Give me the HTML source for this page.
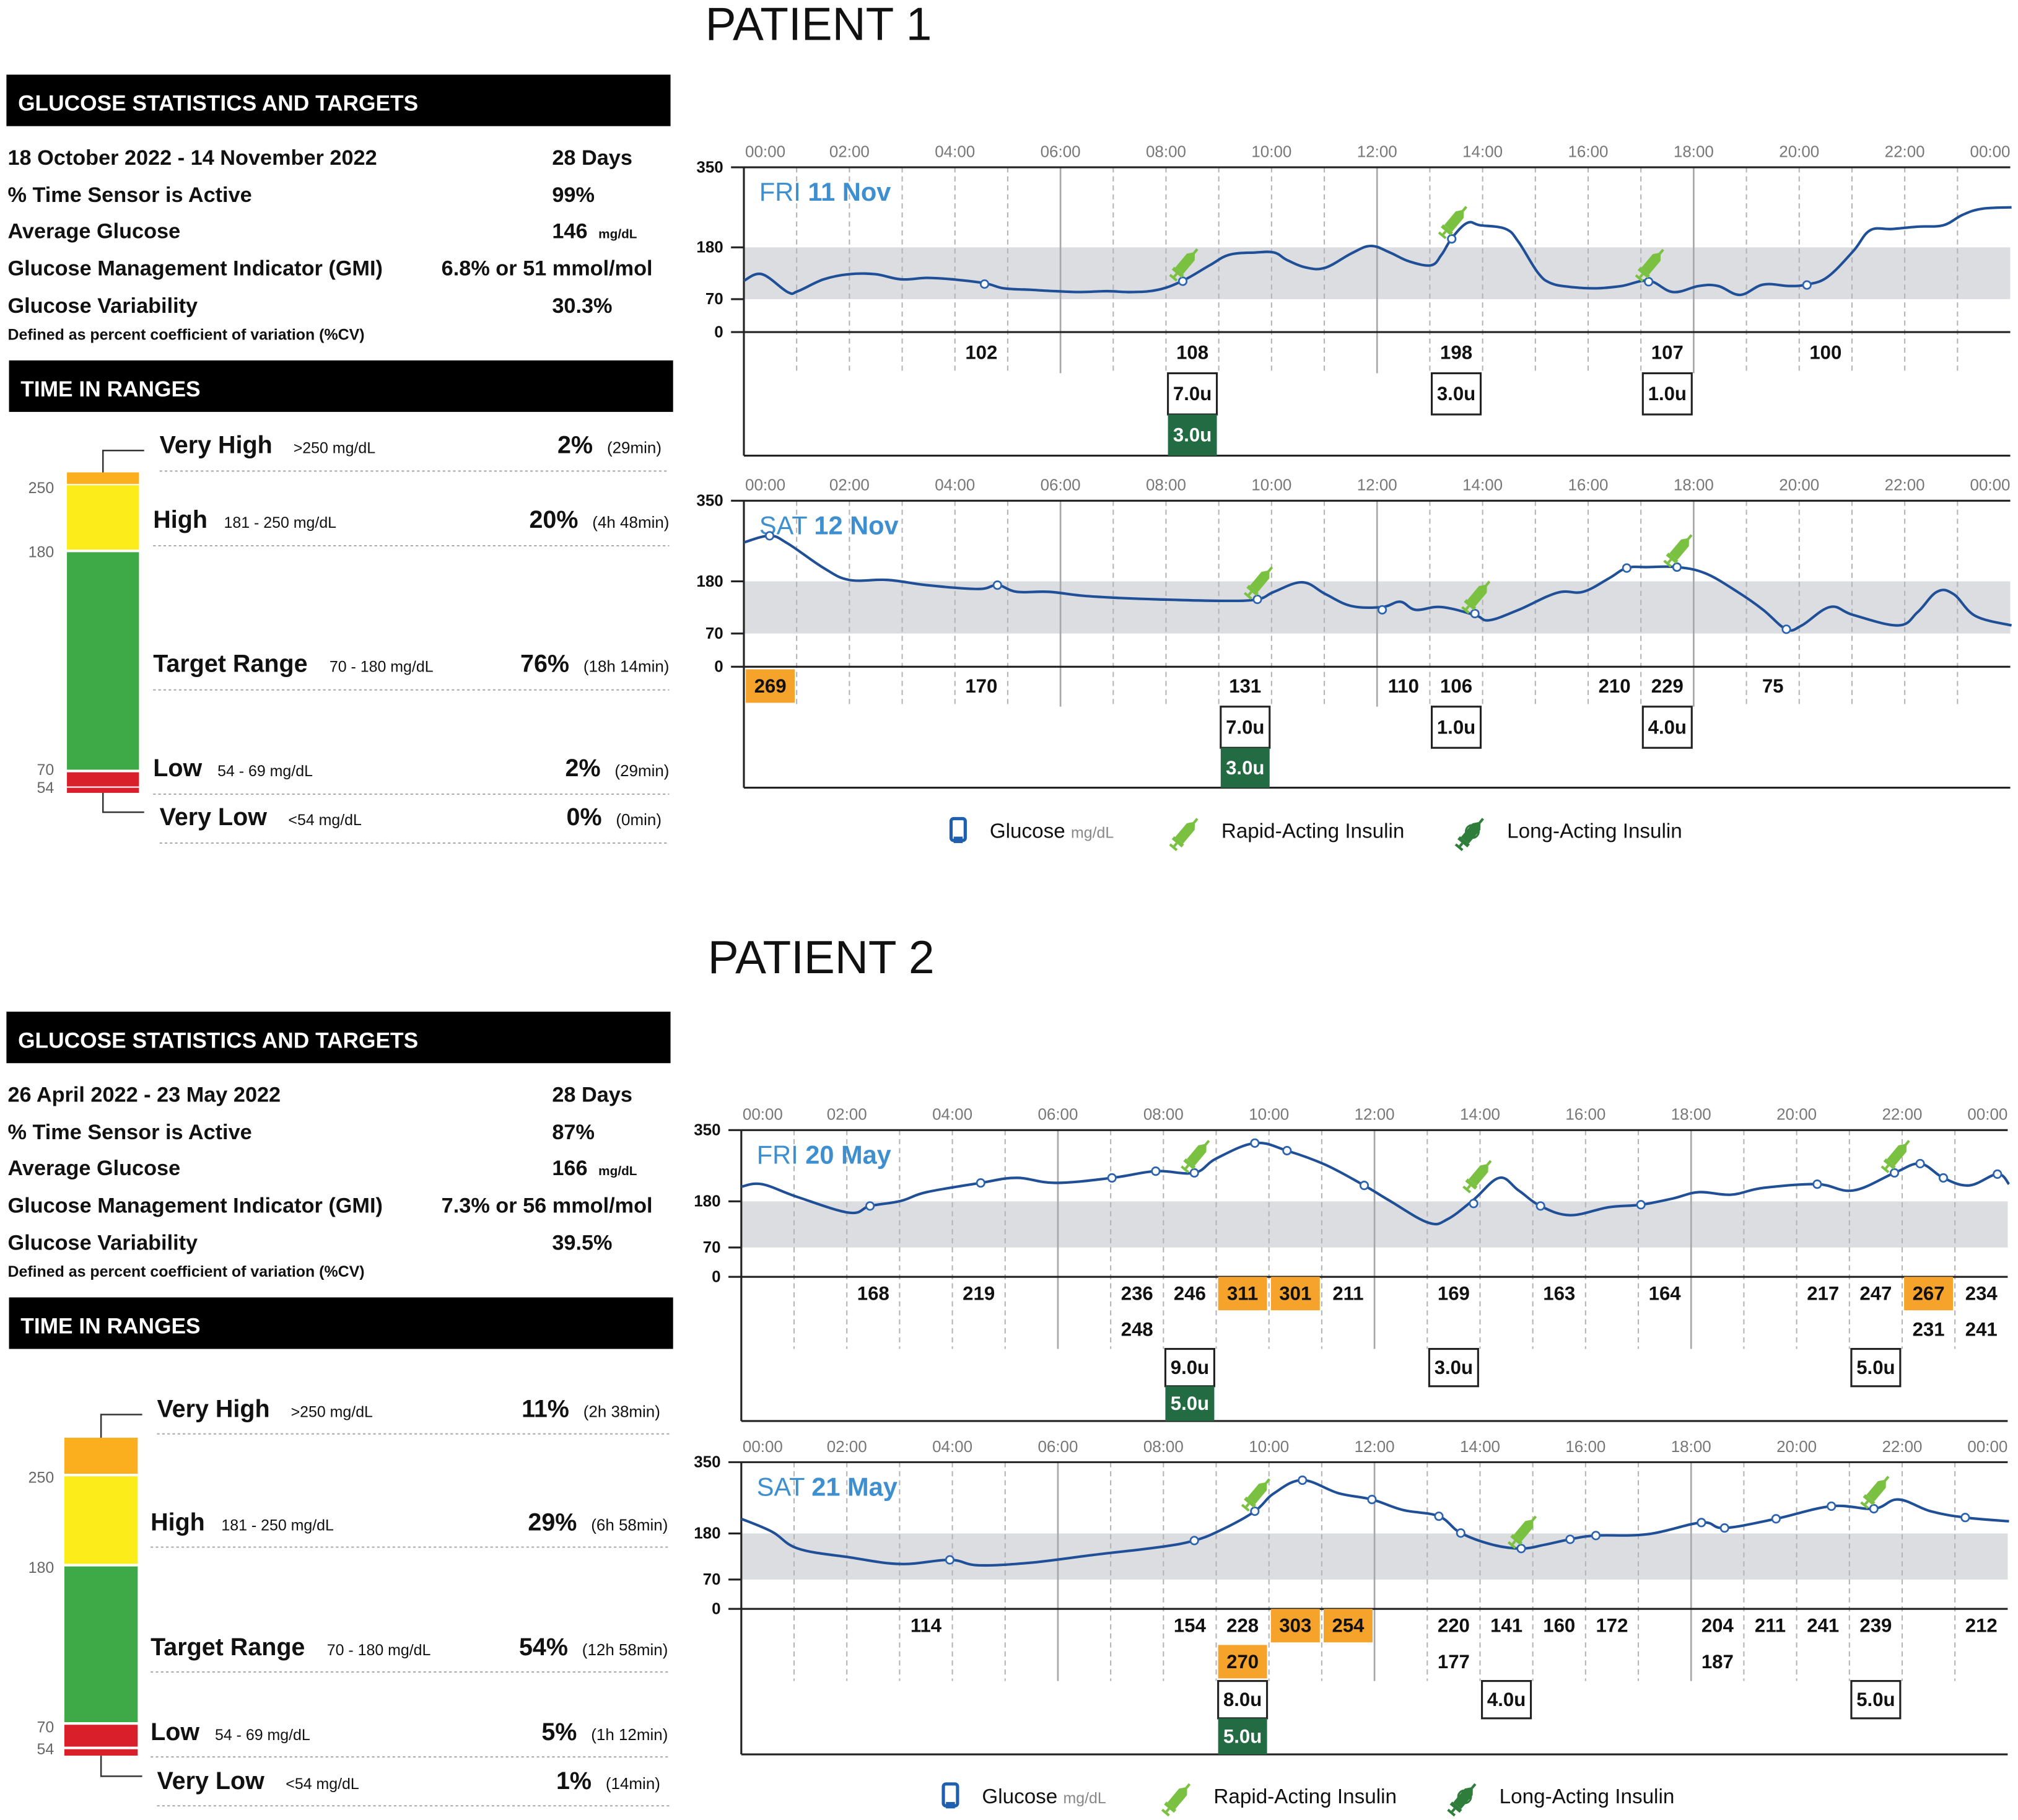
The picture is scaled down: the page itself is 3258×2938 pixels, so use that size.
<!DOCTYPE html>
<html><head><meta charset="utf-8"><style>
html,body{margin:0;padding:0;background:#fff;}
svg{display:block;}
text{font-family:"Liberation Sans",sans-serif;}
.n{font-family:"Liberation Sans Narrow","Liberation Sans",sans-serif;}
</style></head><body>
<svg id="root" xmlns="http://www.w3.org/2000/svg" width="3258" height="2938" viewBox="0 0 1568 1414">
<rect width="1568" height="1414" fill="#fff"/>
<text x="548" y="31" font-size="36" fill="#111">PATIENT 1</text>
<text x="550" y="756" font-size="36" fill="#111">PATIENT 2</text>
<g id="charts"></g>
</svg>
<script>
// ---------- DATA ----------
const p1Stats = ["18 October 2022 - 14 November 2022","28 Days","99%","146","6.8% or 51 mmol/mol","30.3%"];
const p2Stats = ["26 April 2022 - 23 May 2022","28 Days","87%","166","7.3% or 56 mmol/mol","39.5%"];
const p1Ranges = ["2%","20%","76%","2%","0%"];
const p1Durations = ["(29min)","(4h 48min)","(18h 14min)","(29min)","(0min)"];
const p2Ranges = ["11%","29%","54%","5%","1%"];
const p2Durations = ["(2h 38min)","(6h 58min)","(12h 58min)","(1h 12min)","(14min)"];

const hourLabels = ["00:00","02:00","04:00","06:00","08:00","10:00","12:00","14:00","16:00","18:00","20:00","22:00","00:00"];
const yTicks = [350,180,70,0];

// Chart A: FRI 11 Nov
const aCurveX = [578,592,612,620,640,660,680,700,720,740,765,780,800,820,840,860,880,900,919,940,955,975,990,1000,1015,1030,1050,1065,1080,1095,1112,1120,1128,1140,1150,1170,1180,1195,1205,1220,1240,1260,1281,1300,1320,1335,1352,1370,1390,1404,1420,1440,1453,1470,1490,1510,1525,1540,1563];
const aCurveV = [109,123,85,87,112,123,123,112,115,112,104,93,90,87,85,87,85,90,109,142,164,169,169,153,137,137,167,183,169,150,142,164,199,232,227,219,191,126,104,96,93,98,109,85,98,98,79,101,98,101,117,172,216,219,224,227,249,262,265];
const aDotX = [765,919,1128,1281,1404];
const aDotV = [102,108,198,107,100];
const aSyrX = [919,1128,1281];
const aReadH = [4.5,8.5,13.5,17.5,20.5];
const aReadV = ["102","108","198","107","100"];
const aRead2H = []; const aRead2V = [];
const aHiH = [];
const aRapidH = [8.5,13.5,17.5];
const aRapidV = ["7.0u","3.0u","1.0u"];
const aLongH = [8.5];
const aLongV = ["3.0u"];

// Chart B: SAT 12 Nov
const bCurveX = [578,598,612,640,660,690,720,760,775,790,815,840,870,900,950,977,990,1012,1030,1050,1074,1088,1100,1120,1146,1157,1180,1210,1230,1250,1264,1280,1303,1325,1350,1370,1388,1400,1422,1440,1475,1490,1505,1518,1535,1563];
const bCurveV = [262,276,260,208,183,183,172,164,172,158,158,150,145,142,139,142,158,178,153,128,126,137,120,126,109,98,120,156,158,186,208,210,210,197,158,120,79,87,126,109,87,115,158,153,107,87];
const bDotX = [598,775,977,1074,1146,1264,1303,1388];
const bDotV = [276,172,142,120,112,208,210,79];
const bSyrX = [977,1146,1303];
const bReadH = [0.5,4.5,9.5,12.5,13.5,16.5,17.5,19.5];
const bReadV = ["269","170","131","110","106","210","229","75"];
const bRead2H = []; const bRead2V = [];
const bHiH = [0.5];
const bRapidH = [9.5,13.5,17.5];
const bRapidV = ["7.0u","1.0u","4.0u"];
const bLongH = [9.5];
const bLongV = ["3.0u"];

// Chart C: FRI 20 May
const cCurveX = [576,592,620,660,676,700,720,762,790,820,864,898,928,945,975,1000,1030,1060,1080,1110,1125,1145,1165,1180,1197,1220,1250,1275,1300,1320,1345,1370,1412,1440,1472,1492,1510,1530,1552,1561];
const cCurveV = [215,221,190,153,169,181,202,224,236,224,236,252,248,282,319,301,267,218,181,129,138,184,236,206,169,147,166,172,187,202,196,212,221,206,248,270,236,218,245,221];
const cDotX = [676,762,864,898,928,975,1000,1060,1145,1197,1275,1412,1472,1492,1510,1552];
const cDotV = [169,224,236,252,248,319,301,218,175,169,172,221,248,270,236,245];
const cSyrX = [928,1147,1472];
const cReadH = [2.5,4.5,7.5,8.5,9.5,10.5,11.5,13.5,15.5,17.5,20.5,21.5,22.5,23.5];
const cReadV = ["168","219","236","246","311","301","211","169","163","164","217","247","267","234"];
const cRead2H = [7.5,22.5,23.5];
const cRead2V = ["248","231","241"];
const cHiH = [9.5,10.5,22.5];
const cHi2H = [];
const cRapidH = [8.5,13.5,21.5];
const cRapidV = ["9.0u","3.0u","5.0u"];
const cLongH = [8.5];
const cLongV = ["5.0u"];

// Chart D: SAT 21 May
const dCurveX = [576,600,620,660,700,738,760,800,850,900,928,950,975,990,1012,1040,1066,1090,1118,1135,1160,1182,1200,1220,1240,1280,1322,1340,1380,1423,1456,1475,1500,1527,1561];
const dCurveV = [215,184,144,123,107,117,104,110,129,147,163,190,233,276,307,276,261,236,221,181,153,144,153,166,175,178,206,193,215,245,239,261,233,218,209];
const dDotX = [738,928,975,1012,1066,1118,1135,1182,1220,1240,1322,1340,1380,1423,1456,1527];
const dDotV = [117,163,233,307,261,221,181,144,166,175,206,193,215,245,239,218];
const dSyrX = [975,1182,1456];
const dReadH = [3.5,8.5,9.5,10.5,11.5,13.5,14.5,15.5,16.5,18.5,19.5,20.5,21.5,23.5];
const dReadV = ["114","154","228","303","254","220","141","160","172","204","211","241","239","212"];
const dRead2H = [9.5,13.5,18.5];
const dRead2V = ["270","177","187"];
const dHiH = [10.5,11.5];
const dHi2H = [9.5];
const dRapidH = [9.5,14.5,21.5];
const dRapidV = ["8.0u","4.0u","5.0u"];
const dLongH = [9.5];
const dLongV = ["5.0u"];

// ---------- DRAW ----------
const NS="http://www.w3.org/2000/svg";
const G=document.getElementById('charts');
function el(tag,attrs,parent,txt){const e=document.createElementNS(NS,tag);for(const k in attrs)e.setAttribute(k,attrs[k]);if(txt!==undefined)e.textContent=txt;(parent||G).appendChild(e);return e;}

function panel(oy,stats,ranges,durs,bar,pfx){
  let g=el('g',{});
  
  
  let h=el('rect',{x:5,y:58+oy,width:516,height:40,fill:'#000'},g);
  
  
  el('text',{x:14,y:86+oy,'font-size':17,'font-weight':'bold',fill:'#fff'},g,'GLUCOSE STATISTICS AND TARGETS');
  const labels=[stats[0],'% Time Sensor is Active','Average Glucose','Glucose Management Indicator (GMI)','Glucose Variability'];
  const vals=[stats[1],stats[2],stats[3],stats[4],stats[5]];
  const bys=[128,157,185,214,243];
  for(let i=0;i<5;i++){
    let t=el('text',{x:6,y:bys[i]+oy,'font-size':16.5,'font-weight':'bold',fill:'#111'},g,labels[i]);
    
    
    let v=el('text',{x:i==3?343:429,y:bys[i]+oy,'font-size':16.5,'font-weight':'bold',fill:'#111'},g,vals[i]);
    
    
    if(i==2) el('text',{x:465,y:bys[i]+oy,'font-size':10,'font-weight':'bold',fill:'#111'},g,'mg/dL');
  }
  el('text',{x:6,y:264+oy,'font-size':12,'font-weight':'bold',fill:'#111'},g,'Defined as percent coefficient of variation (%CV)');
  let h2=el('rect',{x:7,y:280+oy,width:516,height:40,fill:'#000'},g);
  
  
  el('text',{x:16,y:308+oy,'font-size':17,'font-weight':'bold',fill:'#fff'},g,'TIME IN RANGES');
  const cols=['#fbae1e','#fcec19','#3eaa47','#d9202a','#d9202a'];
  for(let i=0;i<5;i++){
    let r=el('rect',{x:bar.x,y:bar.seg[i][0],width:bar.w,height:bar.seg[i][1]-bar.seg[i][0],fill:cols[i]},g);
    
    
  }
  const cx=bar.x+bar.w/2;
  el('path',{d:`M${cx} ${bar.seg[0][0]} V${bar.rows[0]-2} H${cx+32}`,stroke:'#333','stroke-width':1.2,fill:'none'},g);
  el('path',{d:`M${cx} ${bar.seg[4][1]} V${bar.rows[4]-10} H${cx+32}`,stroke:'#333','stroke-width':1.2,fill:'none'},g);
  const tl=['250','180','70','54'];
  for(let i=0;i<4;i++) el('text',{x:42,y:bar.tick[i],'font-size':12,fill:'#666','text-anchor':'end'},g,tl[i]);
  const names=['Very High','High','Target Range','Low','Very Low'];
  const sub=['>250 mg/dL','181 - 250 mg/dL','70 - 180 mg/dL','54 - 69 mg/dL','<54 mg/dL'];
  const nx=[bar.x+72,bar.x+67,bar.x+67,bar.x+67,bar.x+72];
  const subx=[228,174,256,169,224];
  for(let i=0;i<5;i++){
    const y=bar.rows[i];
    let t=el('text',{x:nx[i],y:y,'font-size':19,'font-weight':'bold',fill:'#111'},g,names[i]);
    
    
    el('text',{x:subx[i]-(pfx=='p2'?2:0),y:y,'font-size':12,fill:'#111'},g,sub[i]);
    let d=el('text',{x:bar.durEnd[i],y:y,'font-size':12.5,fill:'#111','text-anchor':'end'},g,durs[i]);
    let dw=d.getComputedTextLength();
    let p=el('text',{x:bar.durEnd[i]-dw-11,y:y,'font-size':19,'font-weight':'bold',fill:'#111','text-anchor':'end'},g,ranges[i]);
    
    
    el('line',{x1:nx[i],x2:520,y1:y+bar.dot,y2:y+bar.dot,stroke:'#aaa','stroke-width':1,'stroke-dasharray':'2,2'},g);
  }
}
panel(0,p1Stats,p1Ranges,p1Durations,{x:52,w:56,seg:[[367,376],[377,427],[429,598],[600,611],[612,616]],tick:[383,433,602,616],rows:[352,410,522,603,641],durEnd:[514,520,520,520,514],dot:14},'p1');
panel(728,p2Stats,p2Ranges,p2Durations,{x:50,w:57,seg:[[1117,1145],[1147,1215],[1217,1338],[1340,1357],[1359,1364]],tick:[1152,1222,1346,1363],rows:[1101,1189,1286,1352,1390],durEnd:[513,519,519,519,513],dot:13},'p2');

function syringe(g,x,y,col,name){
  let s=el('g',{transform:`translate(${x},${y}) rotate(-50)`},g);
  
  
  el('path',{d:'M-9 -4 L5 -4 L10 0 L5 4 L-9 4 Z',fill:col},s);
  el('rect',{x:9,y:-1,width:4,height:2,fill:col},s);
  el('rect',{x:-12,y:-5,width:3,height:10,fill:col},s);
  el('line',{x1:-15,y1:0,x2:-12,y2:0,stroke:col,'stroke-width':2},s);
  el('line',{x1:-16,y1:-3.5,x2:-16,y2:3.5,stroke:col,'stroke-width':2},s);
}

function smooth(pts){
  let d='M'+pts[0][0]+' '+pts[0][1].toFixed(1);
  for(let i=0;i<pts.length-1;i++){
    const p0=pts[Math.max(0,i-1)],p1=pts[i],p2=pts[i+1],p3=pts[Math.min(pts.length-1,i+2)];
    const t=0.18;
    const c1=[p1[0]+(p2[0]-p0[0])*t,p1[1]+(p2[1]-p0[1])*t];
    const c2=[p2[0]-(p3[0]-p1[0])*t,p2[1]-(p3[1]-p1[1])*t];
    d+=` C${c1[0].toFixed(1)} ${c1[1].toFixed(1)} ${c2[0].toFixed(1)} ${c2[1].toFixed(1)} ${p2[0]} ${p2[1].toFixed(1)}`;
  }
  return d;
}

function chart(cfg){
  const g=el('g',{});
  
  
  const x0=cfg.x0, hw=41, W=24*hw, k=(cfg.zero-cfg.top)/350;
  const X=h=>x0+h*hw, Y=v=>cfg.zero-v*k, XP=x=>x;
  let band=el('rect',{x:x0,y:Y(180),width:W,height:Y(70)-Y(180),fill:'#dcdde1'},g);
  
  
  for(let h=1;h<24;h++){
    const solid=(h%6==0);
    el('line',{x1:X(h),x2:X(h),y1:cfg.top,y2:cfg.gridEnd,stroke:solid?'#a8a8a8':'#b4b4b4','stroke-width':solid?1.3:1,'stroke-dasharray':solid?'none':'4,3'},g);
  }
  hourLabels.forEach((t,i)=>{
    let xx=X(i*2); let anc='middle';
    if(i==0){xx=x0+1;anc='start';} if(i==12){xx=x0+W;anc='end';}
    let lt=el('text',{x:xx,y:cfg.top-8,'font-size':12.5,fill:'#777','text-anchor':anc,class:'n'},g,t);
    
    
  });
  yTicks.forEach(v=>{
    let t=el('text',{x:x0-16,y:Y(v)+4,'font-size':12.5,fill:'#111','text-anchor':'end',class:'n','font-weight':'bold'},g,String(v));
    
    
    el('line',{x1:x0-10,x2:x0,y1:Y(v),y2:Y(v),stroke:'#222','stroke-width':1.5},g);
  });
  el('line',{x1:x0,x2:x0+W,y1:cfg.top,y2:cfg.top,stroke:'#222','stroke-width':1.5},g);
  el('line',{x1:x0,x2:x0+W,y1:cfg.zero,y2:cfg.zero,stroke:'#222','stroke-width':1.5},g);
  el('line',{x1:x0,x2:x0+W,y1:cfg.bottom,y2:cfg.bottom,stroke:'#222','stroke-width':1.5},g);
  el('line',{x1:x0,x2:x0,y1:cfg.top,y2:cfg.bottom,stroke:'#222','stroke-width':1.5},g);
  let tt=el('text',{x:x0+12,y:cfg.top+26,'font-size':20,fill:'#3d8fcf',class:'n'},g);
  
  
  el('tspan',{},tt,cfg.day+' ');
  el('tspan',{'font-weight':'bold'},tt,cfg.date);
  const pts=cfg.cx.map((x,i)=>[XP(x),Y(cfg.cv[i])]);
  let path=el('path',{d:smooth(pts),fill:'none',stroke:'#1f4f96','stroke-width':2,'stroke-linejoin':'round'},g);
  
  
  cfg.dx.forEach((x,i)=>{
    let c=el('circle',{cx:XP(x),cy:Y(cfg.dv[i]),r:3,fill:'#fff',stroke:'#2b63b0','stroke-width':1.3},g);
    
    
  });
  cfg.sx.forEach(x=>{
    let idx=cfg.dx.indexOf(x); let v=idx>=0?cfg.dv[idx]:200;
    syringe(g,XP(x)+3,Y(v)-15,'#7ac142','rapid-insulin-marker');
  });
  function reads(hs,vs,hi,cy){
    hs.forEach((h,i)=>{
      if(hi.indexOf(h)>=0){
        let r=el('rect',{x:X(h)-19,y:cy-13,width:38,height:26,fill:'#f6a32b'},g);
        
        
      }
      let t=el('text',{x:X(h),y:cy+5,'font-size':15,'font-weight':'bold',fill:'#111','text-anchor':'middle',class:'n'},g,vs[i]);
      
      
    });
  }
  reads(cfg.rh,cfg.rv,cfg.hi,cfg.zero+cfg.row1);
  reads(cfg.r2h,cfg.r2v,cfg.hi2||[],cfg.zero+cfg.row1+28);
  cfg.iph.forEach((h,i)=>{
    let r=el('rect',{x:X(h)-19,y:cfg.boxTop,width:38,height:cfg.boxH,fill:'#fff',stroke:'#222','stroke-width':1.5},g);
    
    
    el('text',{x:X(h),y:cfg.boxTop+cfg.boxH/2+5,'font-size':15,'font-weight':'bold',fill:'#111','text-anchor':'middle',class:'n'},g,cfg.ipv[i]);
  });
  cfg.ilh.forEach((h,i)=>{
    let r=el('rect',{x:X(h)-19,y:cfg.boxTop+cfg.boxH,width:38,height:cfg.bottom-cfg.boxTop-cfg.boxH,fill:'#236b43'},g);
    
    
    el('text',{x:X(h),y:cfg.boxTop+cfg.boxH+(cfg.bottom-cfg.boxTop-cfg.boxH)/2+5,'font-size':15,'font-weight':'bold',fill:'#fff','text-anchor':'middle',class:'n'},g,cfg.ilv[i]);
  });
}
chart({name:'chart-fri-11-nov',x0:578,top:130,zero:258,bottom:354,gridEnd:290,boxTop:290,boxH:32,row1:16,day:'FRI',date:'11 Nov',
  cx:aCurveX,cv:aCurveV,dx:aDotX,dv:aDotV,sx:aSyrX,rh:aReadH,rv:aReadV,r2h:aRead2H,r2v:aRead2V,hi:aHiH,iph:aRapidH,ipv:aRapidV,ilh:aLongH,ilv:aLongV});
chart({name:'chart-sat-12-nov',x0:578,top:389,zero:518,bottom:612,gridEnd:549,boxTop:549,boxH:32,row1:15,day:'SAT',date:'12 Nov',
  cx:bCurveX,cv:bCurveV,dx:bDotX,dv:bDotV,sx:bSyrX,rh:bReadH,rv:bReadV,r2h:bRead2H,r2v:bRead2V,hi:bHiH,iph:bRapidH,ipv:bRapidV,ilh:bLongH,ilv:bLongV});
chart({name:'chart-fri-20-may',x0:576,top:878,zero:992,bottom:1104,gridEnd:1048,boxTop:1048,boxH:29,row1:13,day:'FRI',date:'20 May',
  cx:cCurveX,cv:cCurveV,dx:cDotX,dv:cDotV,sx:cSyrX,rh:cReadH,rv:cReadV,r2h:cRead2H,r2v:cRead2V,hi:cHiH,hi2:cHi2H,iph:cRapidH,ipv:cRapidV,ilh:cLongH,ilv:cLongV});
chart({name:'chart-sat-21-may',x0:576,top:1136,zero:1250,bottom:1363,gridEnd:1306,boxTop:1306,boxH:29,row1:13,day:'SAT',date:'21 May',
  cx:dCurveX,cv:dCurveV,dx:dDotX,dv:dDotV,sx:dSyrX,rh:dReadH,rv:dReadV,r2h:dRead2H,r2v:dRead2V,hi:dHiH,hi2:dHi2H,iph:dRapidH,ipv:dRapidV,ilh:dLongH,ilv:dLongV});

function legend(x,y){
  const g=el('g',{});
  
  
  let ph=el('rect',{x:x,y:y-10,width:11,height:17,rx:2,fill:'#fff',stroke:'#1f5fb0','stroke-width':2.5},g);
  
  
  el('rect',{x:x+2,y:y+4,width:7,height:5,fill:'#1f5fb0'},g);
  let t=el('text',{x:x+30,y:y+5,'font-size':16,fill:'#111'},g);
  el('tspan',{},t,'Glucose ');
  el('tspan',{'font-size':12,fill:'#888'},t,'mg/dL');
  
  
  syringe(g,x+183,y,'#7ac142','rapid-legend-icon');
  let t2=el('text',{x:x+210,y:y+5,'font-size':16,fill:'#111'},g,'Rapid-Acting Insulin');
  
  
  syringe(g,x+405,y,'#2e7d3a','long-legend-icon');
  el('circle',{cx:x+405,cy:y,r:5,fill:'none',stroke:'#2e7d3a','stroke-width':1.5},g);
  let t3=el('text',{x:x+432,y:y+5,'font-size':16,fill:'#111'},g,'Long-Acting Insulin');
  
  
}
legend(739,646);
legend(733,1396);
</script>
</body></html>
